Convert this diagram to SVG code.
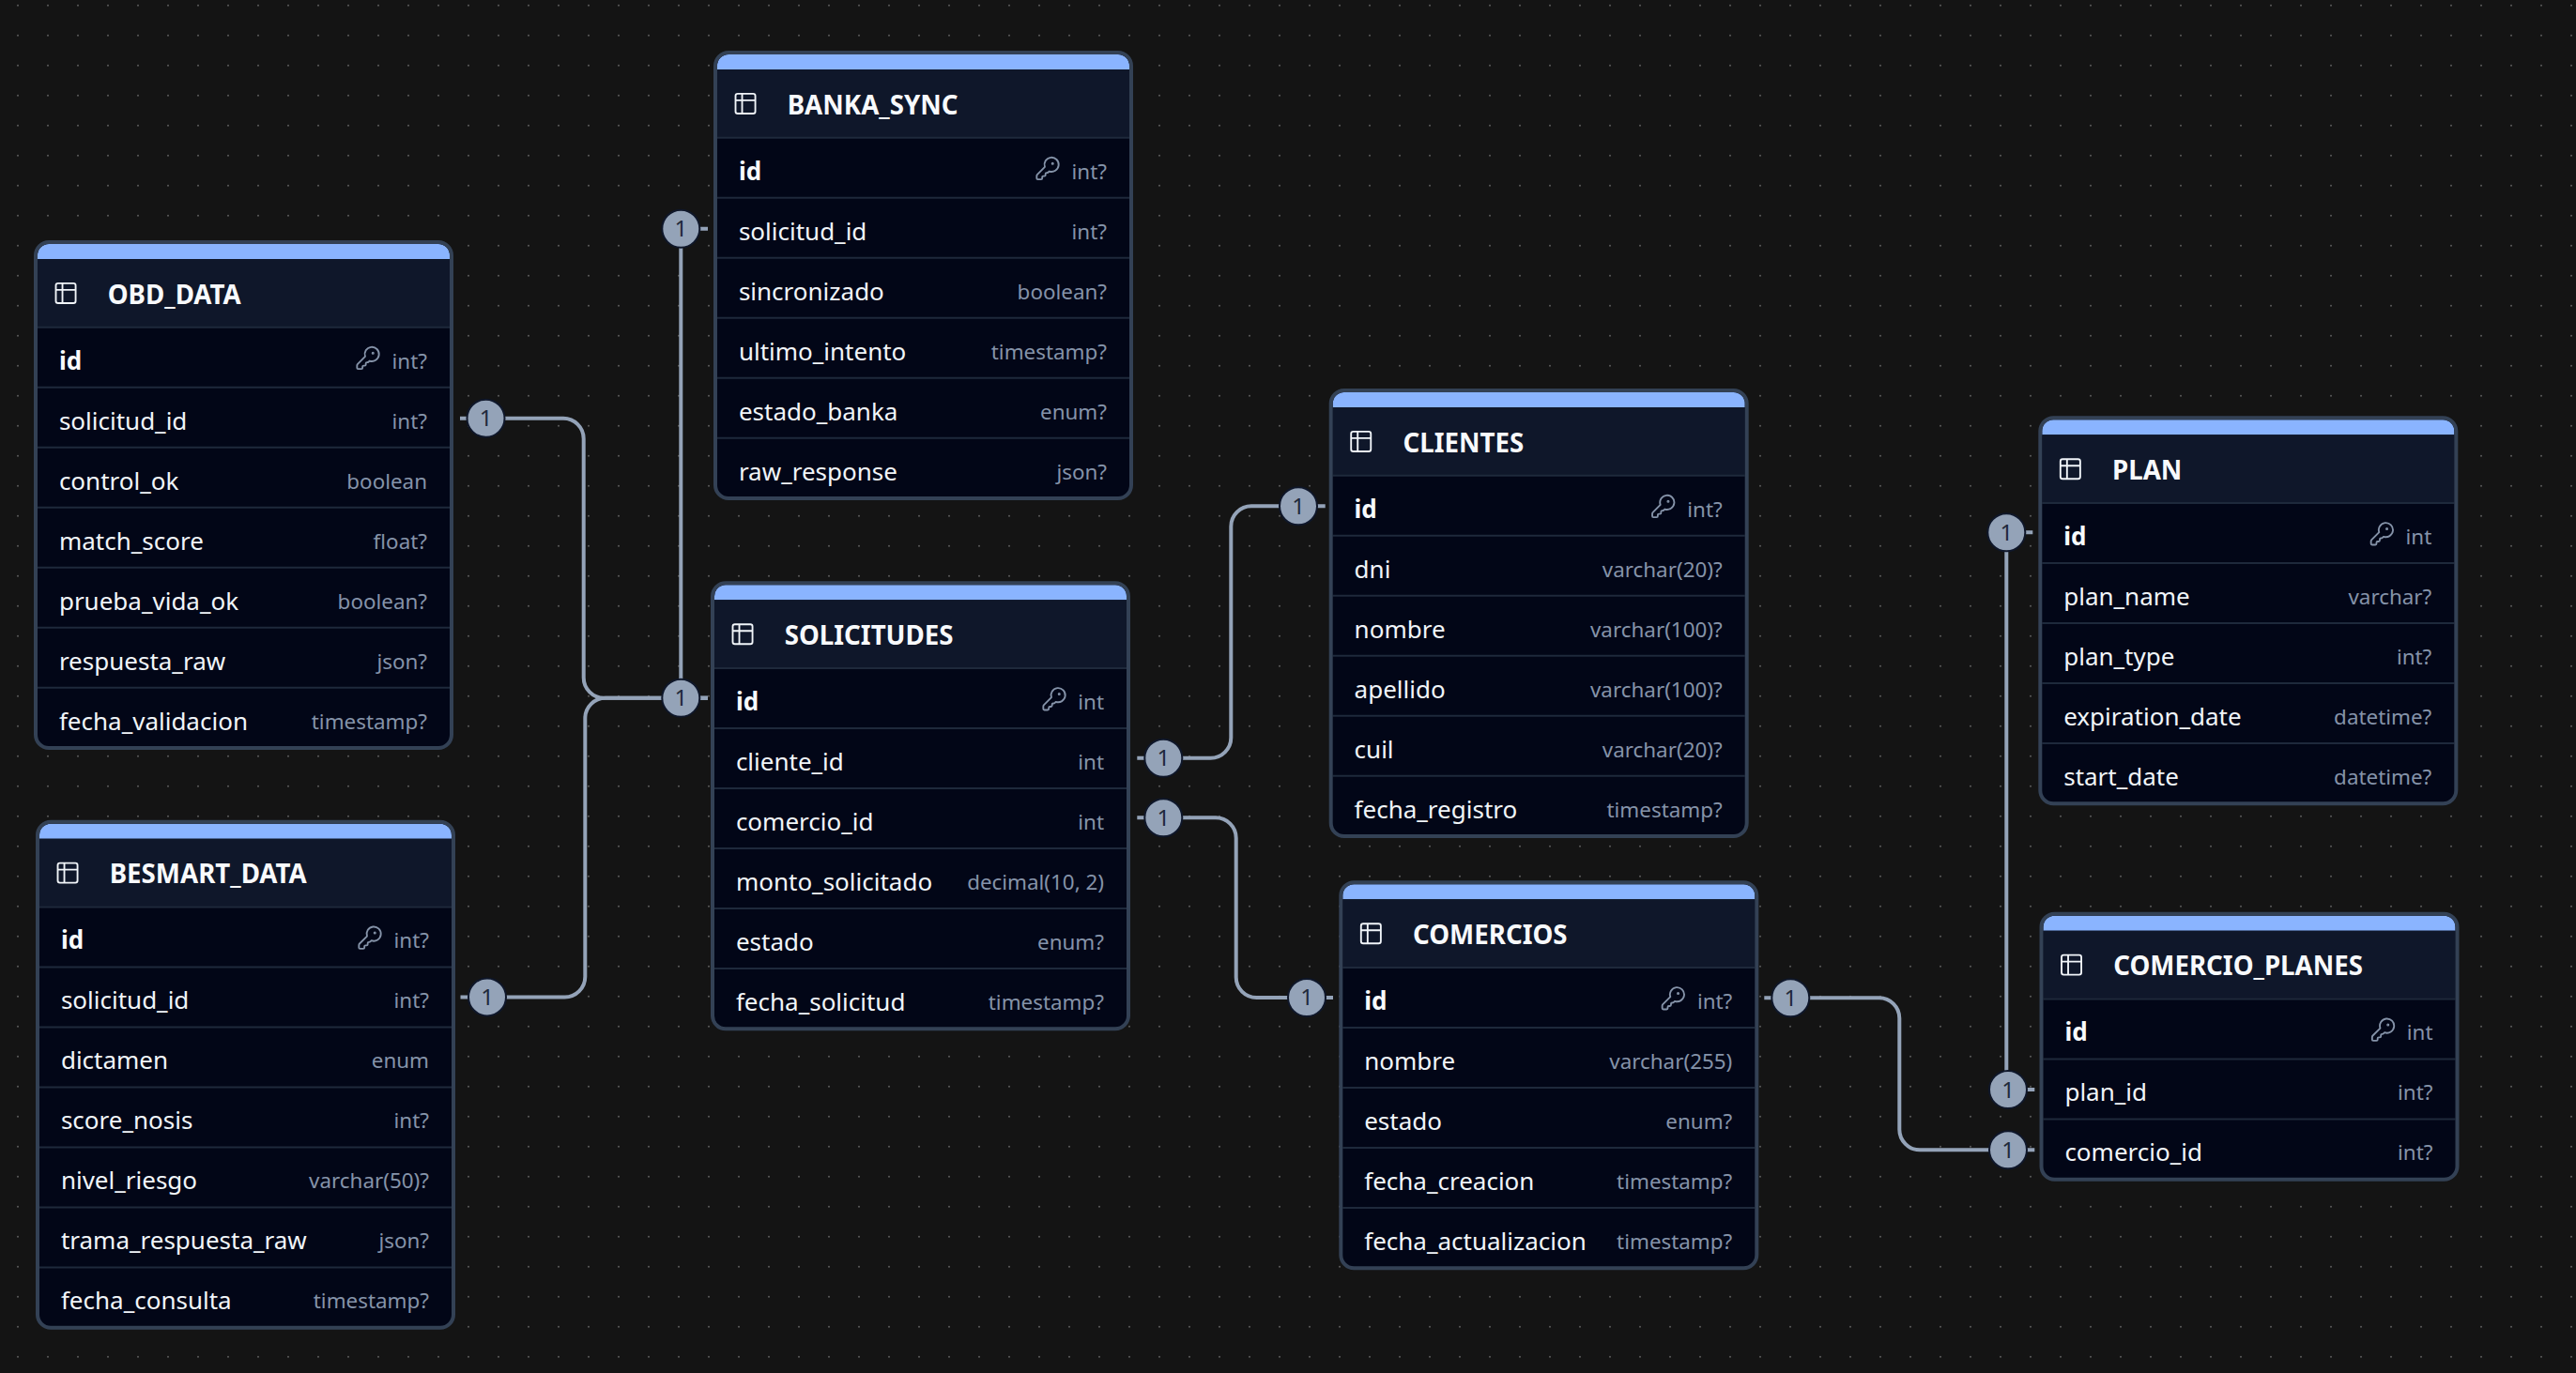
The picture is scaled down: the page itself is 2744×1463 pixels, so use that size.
<svg xmlns="http://www.w3.org/2000/svg" width="2744" height="1463" viewBox="0 0 2744 1463">
<style>
text{font-family:"Noto Sans","Open Sans",sans-serif}
.t{font-size:27.7px;font-weight:700;fill:#f8fafc;transform:translate(-1px,.7px)}
.n{font-size:26px;fill:#f1f5f9;transform:translate(-.8px,.6px)}
.k{font-size:26px;font-weight:700;fill:#f8fafc;transform:translate(-.8px,.6px)}
.y{font-size:22.4px;fill:#8593a9;text-anchor:end;transform:translateY(.5px)}
.body{fill:#020617}
.frame{fill:none;stroke:#334155;stroke-width:4}
.sep{stroke:#1e293b;stroke-width:2}
.edge{fill:none;stroke:#94a3b8;stroke-width:4}
.badge circle{fill:#94a3b8;stroke:#0f172a;stroke-width:2}
.badge text{font-size:24px;fill:#1e293b;text-anchor:middle}
</style>
<defs>
<pattern id="dots" width="32" height="32" patternUnits="userSpaceOnUse"><circle cx="19" cy="5.7" r="1" fill="#5a5a5a"/></pattern>
<g id="head">
<path d="M4 20V16A12 12 0 0 1 16 4H431A12 12 0 0 1 443 16V20Z" fill="#8ab4ff"/>
<rect x="4" y="20" width="439" height="72" fill="#0f172a"/>
<g transform="translate(20 42.4) scale(1.17)" fill="none" stroke="#f1f5f9" stroke-width="1.6" stroke-linecap="round" stroke-linejoin="round"><path d="M9 3H5a2 2 0 0 0-2 2v4m6-6h10a2 2 0 0 1 2 2v4M9 3v18m0 0h10a2 2 0 0 0 2-2V9M9 21H5a2 2 0 0 1-2-2V9m0 0h18"/></g>
</g>
<g id="key" fill="none" stroke="#8593a9" stroke-width="1.6" stroke-linecap="round" stroke-linejoin="round" transform="scale(1.167)"><path d="M2.586 17.414A2 2 0 0 0 2 18.828V21a1 1 0 0 0 1 1h3a1 1 0 0 0 1-1v-1a1 1 0 0 1 1-1h1a1 1 0 0 0 1-1v-1a1 1 0 0 1 1-1h.172a2 2 0 0 0 1.414-.586l.814-.814a6.5 6.5 0 1 0-4-4z"/><circle cx="16.5" cy="7.5" r=".5" fill="#8593a9"/></g>
</defs>
<rect width="2744" height="1463" fill="#141414"/>
<rect width="2744" height="1463" fill="url(#dots)"/>
<g id="connectors">
<path class="edge" d="M490 445.7H600A21.7 21.7 0 0 1 621.7 467.4V722A21.7 21.7 0 0 0 643.4 743.7H754"/>
<path class="edge" d="M490.500 1062.400H601.600A21.700 21.700 0 0 0 623.300 1040.700V765.400A21.700 21.700 0 0 1 645 743.700H754"/>
<path class="edge" d="M754 243.700H725.300V743.700H754"/>
<path class="edge" d="M1211.300 807.700H1289.600A21.700 21.700 0 0 0 1311.300 786V561A21.700 21.700 0 0 1 1333 539.300H1411.700"/>
<path class="edge" d="M1211.300 871.300H1295A21.700 21.700 0 0 1 1316.700 893V1041.300A21.700 21.700 0 0 0 1338.400 1063H1420"/>
<path class="edge" d="M1879.300 1063.300H2001.600A21.700 21.700 0 0 1 2023.300 1085V1203.600A21.700 21.700 0 0 0 2045 1225.300H2167.300"/>
<path class="edge" d="M2165.300 567.300H2137.300V1161H2167.300"/>
<g class="badge"><circle cx="517.500" cy="445.700" r="20"/><text x="517.500" y="454">1</text></g>
<g class="badge"><circle cx="519" cy="1062.400" r="20"/><text x="519" y="1071">1</text></g>
<g class="badge"><circle cx="725.300" cy="243.700" r="20"/><text x="725.300" y="252">1</text></g>
<g class="badge"><circle cx="725.300" cy="743.700" r="20"/><text x="725.300" y="752">1</text></g>
<g class="badge"><circle cx="1239.300" cy="807.700" r="20"/><text x="1239.300" y="816">1</text></g>
<g class="badge"><circle cx="1239.300" cy="871.300" r="20"/><text x="1239.300" y="880">1</text></g>
<g class="badge"><circle cx="1383" cy="539.300" r="20"/><text x="1383" y="548">1</text></g>
<g class="badge"><circle cx="1392" cy="1063" r="20"/><text x="1392" y="1071">1</text></g>
<g class="badge"><circle cx="1907.300" cy="1063.300" r="20"/><text x="1907.300" y="1072">1</text></g>
<g class="badge"><circle cx="2137.300" cy="567.300" r="20"/><text x="2137.300" y="576">1</text></g>
<g class="badge"><circle cx="2139" cy="1161" r="20"/><text x="2139" y="1170">1</text></g>
<g class="badge"><circle cx="2139" cy="1225.300" r="20"/><text x="2139" y="1234">1</text></g>
</g>
<g id="OBD_DATA" transform="translate(36 256)">
<rect class="body" x="2" y="2" width="443" height="539" rx="14"/><use href="#head"/>
<path class="sep" d="M4 92.700H443M4 156.700H443M4 220.700H443M4 284.700H443M4 348.700H443M4 412.700H443M4 476.700H443"/>
<rect class="frame" x="2" y="2" width="443" height="539" rx="14"/>
<text class="t" x="79.700" y="67">OBD_DATA</text>
<text class="k" x="27.700" y="137">id</text><use href="#key" transform="translate(342 111.500)"/><text class="y" x="419" y="136">int?</text>
<text class="n" x="27.700" y="201">solicitud_id</text><text class="y" x="419" y="200">int?</text>
<text class="n" x="27.700" y="265">control_ok</text><text class="y" x="419" y="264">boolean</text>
<text class="n" x="27.700" y="329">match_score</text><text class="y" x="419" y="328">float?</text>
<text class="n" x="27.700" y="393">prueba_vida_ok</text><text class="y" x="419" y="392">boolean?</text>
<text class="n" x="27.700" y="457">respuesta_raw</text><text class="y" x="419" y="456">json?</text>
<text class="n" x="27.700" y="521">fecha_validacion</text><text class="y" x="419" y="520">timestamp?</text>
</g>
<g id="BESMART_DATA" transform="translate(38 873.700)">
<rect class="body" x="2" y="2" width="443" height="539" rx="14"/><use href="#head"/>
<path class="sep" d="M4 92.700H443M4 156.700H443M4 220.700H443M4 284.700H443M4 348.700H443M4 412.700H443M4 476.700H443"/>
<rect class="frame" x="2" y="2" width="443" height="539" rx="14"/>
<text class="t" x="79.700" y="67">BESMART_DATA</text>
<text class="k" x="27.700" y="137">id</text><use href="#key" transform="translate(342 111.500)"/><text class="y" x="419" y="136">int?</text>
<text class="n" x="27.700" y="201">solicitud_id</text><text class="y" x="419" y="200">int?</text>
<text class="n" x="27.700" y="265">dictamen</text><text class="y" x="419" y="264">enum</text>
<text class="n" x="27.700" y="329">score_nosis</text><text class="y" x="419" y="328">int?</text>
<text class="n" x="27.700" y="393">nivel_riesgo</text><text class="y" x="419" y="392">varchar(50)?</text>
<text class="n" x="27.700" y="457">trama_respuesta_raw</text><text class="y" x="419" y="456">json?</text>
<text class="n" x="27.700" y="521">fecha_consulta</text><text class="y" x="419" y="520">timestamp?</text>
</g>
<g id="BANKA_SYNC" transform="translate(760 54)">
<rect class="body" x="2" y="2" width="443" height="475" rx="14"/><use href="#head"/>
<path class="sep" d="M4 92.700H443M4 156.700H443M4 220.700H443M4 284.700H443M4 348.700H443M4 412.700H443"/>
<rect class="frame" x="2" y="2" width="443" height="475" rx="14"/>
<text class="t" x="79.700" y="67">BANKA_SYNC</text>
<text class="k" x="27.700" y="137">id</text><use href="#key" transform="translate(342 111.500)"/><text class="y" x="419" y="136">int?</text>
<text class="n" x="27.700" y="201">solicitud_id</text><text class="y" x="419" y="200">int?</text>
<text class="n" x="27.700" y="265">sincronizado</text><text class="y" x="419" y="264">boolean?</text>
<text class="n" x="27.700" y="329">ultimo_intento</text><text class="y" x="419" y="328">timestamp?</text>
<text class="n" x="27.700" y="393">estado_banka</text><text class="y" x="419" y="392">enum?</text>
<text class="n" x="27.700" y="457">raw_response</text><text class="y" x="419" y="456">json?</text>
</g>
<g id="SOLICITUDES" transform="translate(757 619.300)">
<rect class="body" x="2" y="2" width="443" height="475" rx="14"/><use href="#head"/>
<path class="sep" d="M4 92.700H443M4 156.700H443M4 220.700H443M4 284.700H443M4 348.700H443M4 412.700H443"/>
<rect class="frame" x="2" y="2" width="443" height="475" rx="14"/>
<text class="t" x="79.700" y="67">SOLICITUDES</text>
<text class="k" x="27.700" y="137">id</text><use href="#key" transform="translate(352 111.500)"/><text class="y" x="419" y="136">int</text>
<text class="n" x="27.700" y="201">cliente_id</text><text class="y" x="419" y="200">int</text>
<text class="n" x="27.700" y="265">comercio_id</text><text class="y" x="419" y="264">int</text>
<text class="n" x="27.700" y="329">monto_solicitado</text><text class="y" x="419" y="328">decimal(10, 2)</text>
<text class="n" x="27.700" y="393">estado</text><text class="y" x="419" y="392">enum?</text>
<text class="n" x="27.700" y="457">fecha_solicitud</text><text class="y" x="419" y="456">timestamp?</text>
</g>
<g id="CLIENTES" transform="translate(1415.700 414)">
<rect class="body" x="2" y="2" width="443" height="475" rx="14"/><use href="#head"/>
<path class="sep" d="M4 92.700H443M4 156.700H443M4 220.700H443M4 284.700H443M4 348.700H443M4 412.700H443"/>
<rect class="frame" x="2" y="2" width="443" height="475" rx="14"/>
<text class="t" x="79.700" y="67">CLIENTES</text>
<text class="k" x="27.700" y="137">id</text><use href="#key" transform="translate(342 111.500)"/><text class="y" x="419" y="136">int?</text>
<text class="n" x="27.700" y="201">dni</text><text class="y" x="419" y="200">varchar(20)?</text>
<text class="n" x="27.700" y="265">nombre</text><text class="y" x="419" y="264">varchar(100)?</text>
<text class="n" x="27.700" y="329">apellido</text><text class="y" x="419" y="328">varchar(100)?</text>
<text class="n" x="27.700" y="393">cuil</text><text class="y" x="419" y="392">varchar(20)?</text>
<text class="n" x="27.700" y="457">fecha_registro</text><text class="y" x="419" y="456">timestamp?</text>
</g>
<g id="COMERCIOS" transform="translate(1426.300 938.300)">
<rect class="body" x="2" y="2" width="443" height="411" rx="14"/><use href="#head"/>
<path class="sep" d="M4 92.700H443M4 156.700H443M4 220.700H443M4 284.700H443M4 348.700H443"/>
<rect class="frame" x="2" y="2" width="443" height="411" rx="14"/>
<text class="t" x="79.700" y="67">COMERCIOS</text>
<text class="k" x="27.700" y="137">id</text><use href="#key" transform="translate(342 111.500)"/><text class="y" x="419" y="136">int?</text>
<text class="n" x="27.700" y="201">nombre</text><text class="y" x="419" y="200">varchar(255)</text>
<text class="n" x="27.700" y="265">estado</text><text class="y" x="419" y="264">enum?</text>
<text class="n" x="27.700" y="329">fecha_creacion</text><text class="y" x="419" y="328">timestamp?</text>
<text class="n" x="27.700" y="393">fecha_actualizacion</text><text class="y" x="419" y="392">timestamp?</text>
</g>
<g id="PLAN" transform="translate(2171.300 443.300)">
<rect class="body" x="2" y="2" width="443" height="411" rx="14"/><use href="#head"/>
<path class="sep" d="M4 92.700H443M4 156.700H443M4 220.700H443M4 284.700H443M4 348.700H443"/>
<rect class="frame" x="2" y="2" width="443" height="411" rx="14"/>
<text class="t" x="79.700" y="67">PLAN</text>
<text class="k" x="27.700" y="137">id</text><use href="#key" transform="translate(352 111.500)"/><text class="y" x="419" y="136">int</text>
<text class="n" x="27.700" y="201">plan_name</text><text class="y" x="419" y="200">varchar?</text>
<text class="n" x="27.700" y="265">plan_type</text><text class="y" x="419" y="264">int?</text>
<text class="n" x="27.700" y="329">expiration_date</text><text class="y" x="419" y="328">datetime?</text>
<text class="n" x="27.700" y="393">start_date</text><text class="y" x="419" y="392">datetime?</text>
</g>
<g id="COMERCIO_PLANES" transform="translate(2172.500 971.700)">
<rect class="body" x="2" y="2" width="443" height="283" rx="14"/><use href="#head"/>
<path class="sep" d="M4 92.700H443M4 156.700H443M4 220.700H443"/>
<rect class="frame" x="2" y="2" width="443" height="283" rx="14"/>
<text class="t" x="79.700" y="67">COMERCIO_PLANES</text>
<text class="k" x="27.700" y="137">id</text><use href="#key" transform="translate(352 111.500)"/><text class="y" x="419" y="136">int</text>
<text class="n" x="27.700" y="201">plan_id</text><text class="y" x="419" y="200">int?</text>
<text class="n" x="27.700" y="265">comercio_id</text><text class="y" x="419" y="264">int?</text>
</g>
</svg>
